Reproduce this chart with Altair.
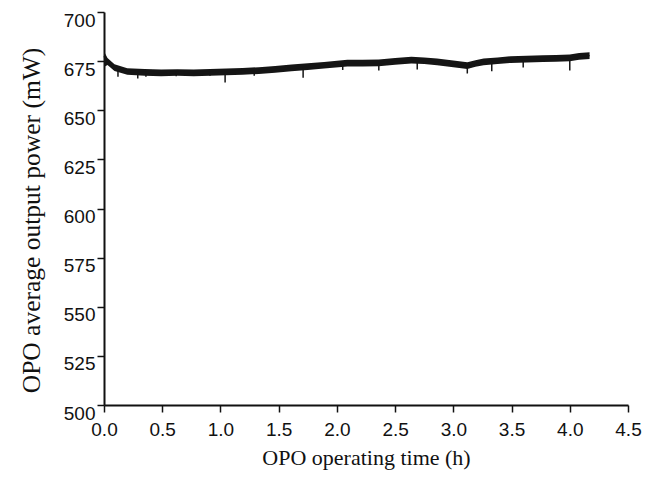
import altair as alt
import pandas as pd

# Hand-read trace of the OPO output power (centre of the noisy band) and its envelope
times = [0.00, 0.03, 0.09, 0.20, 0.35, 0.49, 0.63, 0.77, 0.91, 1.05, 1.19, 1.33, 1.47, 1.61, 1.75,
         1.89, 2.09, 2.22, 2.36, 2.50, 2.64, 2.75, 2.86, 3.00, 3.12, 3.19, 3.26, 3.38, 3.49, 3.63,
         3.77, 3.88, 4.00, 4.08, 4.17]
center = [677.5, 674.8, 671.7, 669.8, 669.3, 669.0, 669.2, 669.0, 669.3, 669.5, 669.8, 670.2, 670.8, 671.6, 672.2,
          672.9, 674.0, 674.0, 674.1, 674.9, 675.5, 675.2, 674.6, 673.6, 672.7, 673.8, 674.6, 675.2, 675.8, 676.0,
          676.3, 676.4, 676.7, 677.4, 677.8]
upper = [680.0, 676.6, 673.4, 671.4, 671.0, 670.7, 670.9, 670.7, 671.0, 671.2, 671.5, 671.9, 672.5, 673.3, 673.9,
         674.6, 675.7, 675.7, 675.8, 676.6, 677.2, 676.9, 676.3, 675.3, 674.4, 675.5, 676.3, 676.9, 677.5, 677.7,
         678.0, 678.1, 678.4, 679.1, 679.5]
lower = [672.0, 673.0, 670.0, 668.1, 667.6, 667.3, 667.5, 667.3, 667.6, 667.8, 668.1, 668.5, 669.1, 669.9, 670.5,
         671.2, 672.3, 672.3, 672.4, 673.2, 673.8, 673.5, 672.9, 671.9, 671.0, 672.1, 672.9, 673.5, 674.1, 674.3,
         674.6, 674.7, 675.0, 675.7, 676.1]

# Downward noise spikes
spike_t = [0.12, 0.29, 0.36, 0.62, 0.91, 1.04, 1.29, 1.71, 2.05, 2.36, 2.69, 3.12, 3.33, 3.60, 4.00]
spike_low = [667.0, 666.1, 667.0, 667.3, 667.5, 664.1, 667.6, 666.6, 670.5, 670.2, 670.7, 668.7, 669.8, 671.8, 670.2]
spike_top = [671.0, 669.5, 669.5, 669.5, 669.5, 669.8, 670.5, 671.8, 673.5, 674.1, 675.0, 672.7, 674.8, 676.0, 676.7]

x_ticks = [0.0, 0.5, 1.0, 1.5, 2.0, 2.5, 3.0, 3.5, 4.0, 4.5]
y_ticks = [500, 525, 550, 575, 600, 625, 650, 675, 700]

band = pd.DataFrame({"t": times, "c": center, "hi": upper, "lo": lower})
spikes = pd.DataFrame({"t": spike_t, "lo": spike_low, "hi": spike_top})

xscale = alt.Scale(domain=[0, 4.5], nice=False, zero=False)
yscale = alt.Scale(domain=[500, 700], nice=False, zero=False)

xaxis = alt.Axis(values=x_ticks, format=".1f", title="OPO operating time (h)",
                 grid=False, domainColor="#111", tickColor="#111", tickSize=7, tickWidth=1.5,
                 domainWidth=2, labelFont="Liberation Sans", labelFontSize=19, labelColor="#111",
                 labelPadding=8, titleFont="Liberation Serif", titleFontSize=22,
                 titleFontWeight="normal", titleColor="#111", titlePadding=8, labelFlush=False)
yaxis = alt.Axis(values=y_ticks, format="d", title="OPO average output power (mW)",
                 grid=False, domainColor="#111", tickColor="#111", tickSize=7, tickWidth=1.5,
                 domainWidth=2, labelFont="Liberation Sans", labelFontSize=19, labelColor="#111",
                 labelPadding=2, labelOffset=8, titleFont="Liberation Serif", titleFontSize=25.5,
                 titleFontWeight="normal", titleColor="#111", titlePadding=19, titleY=208,
                 labelFlush=False)

area = alt.Chart(band).mark_area(color="#151515", opacity=1).encode(
    x=alt.X("t:Q", scale=xscale, axis=xaxis),
    y=alt.Y("hi:Q", scale=yscale, axis=yaxis),
    y2="lo:Q",
)
line = alt.Chart(band).mark_line(color="#151515", strokeWidth=1.5).encode(
    x=alt.X("t:Q", scale=xscale),
    y=alt.Y("c:Q", scale=yscale),
)
rules = alt.Chart(spikes).mark_rule(color="#151515", strokeWidth=1.5).encode(
    x=alt.X("t:Q", scale=xscale),
    y=alt.Y("lo:Q", scale=yscale),
    y2="hi:Q",
)

chart = (area + line + rules).properties(
    width=524, height=393,
    background="white",
    autosize=alt.AutoSizeParams(type="none"),
    padding={"left": 96, "top": 4, "right": 19, "bottom": 80},
).configure_view(strokeWidth=0)

chart.save("out.html", embed_options={"renderer": "svg", "actions": False})
